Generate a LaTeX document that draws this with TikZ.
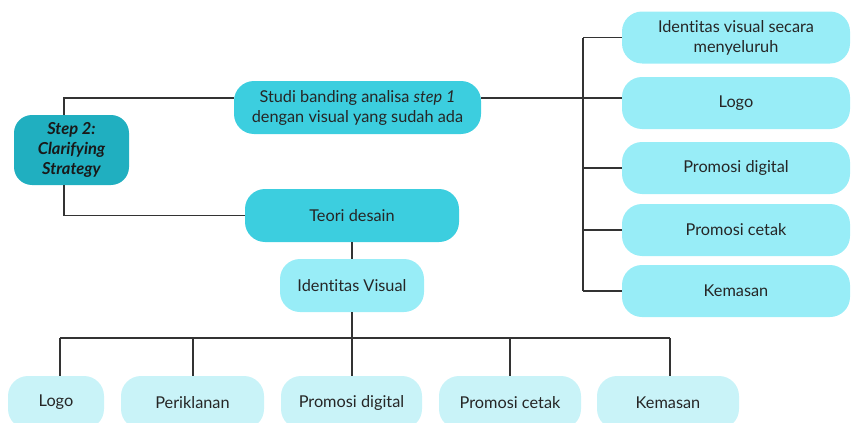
\documentclass[tikz,border=0pt]{standalone}
\usepackage{fontspec}
\setmainfont{Lato}[Ligatures={NoCommon}]
\usetikzlibrary{positioning,calc}

\definecolor{stepcol}{HTML}{20AFC0}
\definecolor{midcol}{HTML}{3CCEDF}
\definecolor{lightcol}{HTML}{98EDF7}
\definecolor{palecol}{HTML}{C9F3F8}

\begin{document}
\begin{tikzpicture}[x=1pt,y=-1pt,
    box/.style={rectangle,rounded corners=20pt,inner sep=0pt,align=center,text=black!85,font=\fontsize{16.3}{20}\selectfont},
    stepbox/.style={box,fill=stepcol,rounded corners=18pt,font=\fontsize{16.5}{20}\selectfont\bfseries\itshape,text=black!90},
    midbox/.style={box,fill=midcol},
    rightbox/.style={box,fill=lightcol,minimum width=228pt,minimum height=52pt},
    botbox/.style={box,fill=palecol,minimum height=53pt},
    link/.style={draw=black!80,line width=1.1pt}
]

\useasboundingbox (0,0) rectangle (852,423);

% Main nodes
\node[stepbox,minimum width=115pt,minimum height=70pt] (step2) at (71.5,150) {Step 2:\\Clarifying\\Strategy};
\node[midbox,minimum width=247pt,minimum height=53pt] (studi) at (357.5,107.5) {Studi banding analisa \textit{step 1}\\dengan visual yang sudah ada};
\node[midbox,minimum width=214pt,minimum height=53pt] (teori) at (352,215.5) {Teori desain};
\node[box,fill=lightcol,minimum width=144pt,minimum height=53pt] (idvis) at (352,285.5) {Identitas Visual};

\coordinate (spine) at (0,98); % height of the top branch line
\coordinate (trunk) at (583,0); % x of the right column line
\coordinate (bus) at (0,338); % height of the bottom branch line

% Right column
\foreach \i/\y/\txt in {1/37.5/{Identitas visual secara\\menyeluruh},2/103/Logo,3/168/Promosi digital,4/230/Promosi cetak,5/291/Kemasan} {
    \node[rightbox] (right\i) at (736,\y) {\txt};
}

% Bottom row (stub x given apart, the Logo stub is a bit off centre)
\foreach \i/\x/\w/\sx/\txt in {1/56/96/60/Logo,2/192.5/143/193/Periklanan,3/351.5/141/352/Promosi digital,4/510/142/510/Promosi cetak,5/668/142/670/Kemasan} {
    \node[botbox,minimum width=\w pt] (bot\i) at (\x,402.5) {\txt};
    \coordinate (stub\i) at (\sx,338);
}

% Connect step 2 to studi banding and teori desain
\draw[link] ($(step2.north)+(-7.5,0)$) |- (studi.west |- spine);
\draw[link] ($(step2.south)+(-7.5,0)$) |- (teori.west);

% Connect studi banding to right column
\draw[link] (studi.east |- spine) -- (right2.west |- spine);
\draw[link] (trunk |- right1.west) -- (trunk |- right5.west);
\foreach \i in {1,3,4,5} {
    \draw[link] (trunk |- right\i.west) -- (right\i.west);
}

% Teori desain down to identitas visual and the bottom row
\draw[link] (teori) -- (idvis);
\draw[link] (idvis.south) -- (idvis.south |- bus);
\draw[link] (stub1) -- (stub5);
\foreach \i in {1,...,5} {
    \draw[link] (stub\i) -- (stub\i |- bot\i.north);
}

\end{tikzpicture}
\end{document}
